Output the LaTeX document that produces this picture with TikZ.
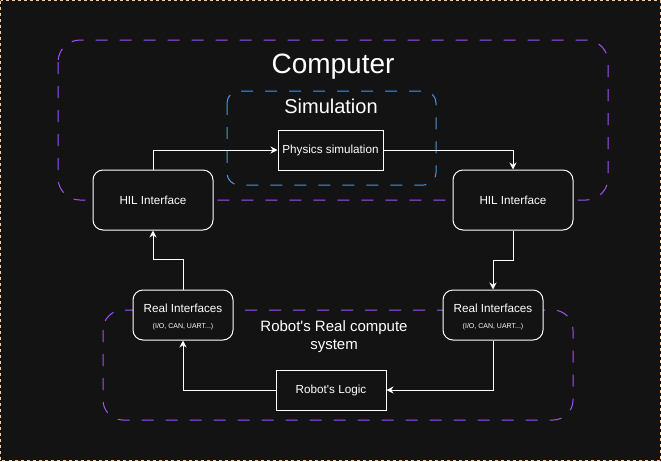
\documentclass[tikz,border=0pt]{standalone}
\usepackage{fontspec}
\setmainfont{Liberation Sans}[Ligatures=TeXOff]
\usetikzlibrary{arrows.meta,positioning}
\definecolor{bg}{RGB}{19,19,19}
\definecolor{peach}{RGB}{255,204,153}
\definecolor{purp}{RGB}{165,80,245}
\definecolor{sblue}{RGB}{75,150,225}
\tikzset{
  container/.style={draw, line width=1pt, dash pattern=on 12pt off 12pt, inner sep=0pt},
  box/.style={draw=white, line width=1pt, fill=bg, text=white, inner sep=0pt, align=center, font=\fontsize{11.7}{14}\selectfont},
  rbox/.style={box, rounded corners=10pt},
  conn/.style={draw=white, line width=1pt, -{Stealth[length=7pt,width=7pt]}},
  title/.style={text=white, inner sep=0pt, align=center}
}
\begin{document}
\begin{tikzpicture}[x=1pt,y=-1pt]
\useasboundingbox (0,0) rectangle (661,461);
\fill[bg] (0,0) rectangle (661,461);
\draw[peach, line width=1pt, dash pattern=on 3pt off 3pt] (0.5,0.5) rectangle (660.5,460.5);

% containers
\draw[container, draw=purp, rounded corners=22pt] (58,40) rectangle (608,200);
\node[title, font=\fontsize{28}{32}\selectfont] (computer) at (333,67) {Computer};
\draw[container, draw=sblue, rounded corners=12pt] (227,91) rectangle (436,185);
\node[title, font=\fontsize{20}{24}\selectfont] (simulation) at (331,106) {Simulation};
\draw[container, draw=purp, rounded corners=20pt] (103,310) rectangle (573,420);
\node[title, font=\fontsize{15}{18}\selectfont] (robotsys) at (334,337) {Robot's Real compute\\system};

% nodes
\node[box, minimum width=105pt, minimum height=40pt] (phys) at (330.5,150) {Physics simulation};
\node[rbox, minimum width=120pt, minimum height=60pt] (hilL) at (153,200) {\rule{0pt}{10pt}HIL Interface};
\node[rbox, minimum width=120pt, minimum height=60pt] (hilR) at (513,200) {\rule{0pt}{10pt}HIL Interface};
\node[rbox, minimum width=100pt, minimum height=50pt] (realL) at (183,315) {\rule{0pt}{12.5pt}Real Interfaces\\[2pt]{\fontsize{7}{8}\selectfont (I/O, CAN, UART...)}};
\node[rbox, minimum width=100pt, minimum height=50pt] (realR) at (493,315) {\rule{0pt}{12.5pt}Real Interfaces\\[2pt]{\fontsize{7}{8}\selectfont (I/O, CAN, UART...)}};
\node[box, minimum width=110pt, minimum height=40pt] (logic) at (331,390) {Robot's Logic};

% connectors
\draw[conn] (hilL.north) |- (phys.west);
\draw[conn] (phys.east) -| (hilR.north);
\draw[conn] (hilR.south) -- ++(0,30) -| (realR.north);
\draw[conn] (realR.south) |- (logic.east);
\draw[conn] (logic.west) -| (realL.south);
\draw[conn] (realL.north) -- ++(0,-30) -| (hilL.south);
\end{tikzpicture}
\end{document}
